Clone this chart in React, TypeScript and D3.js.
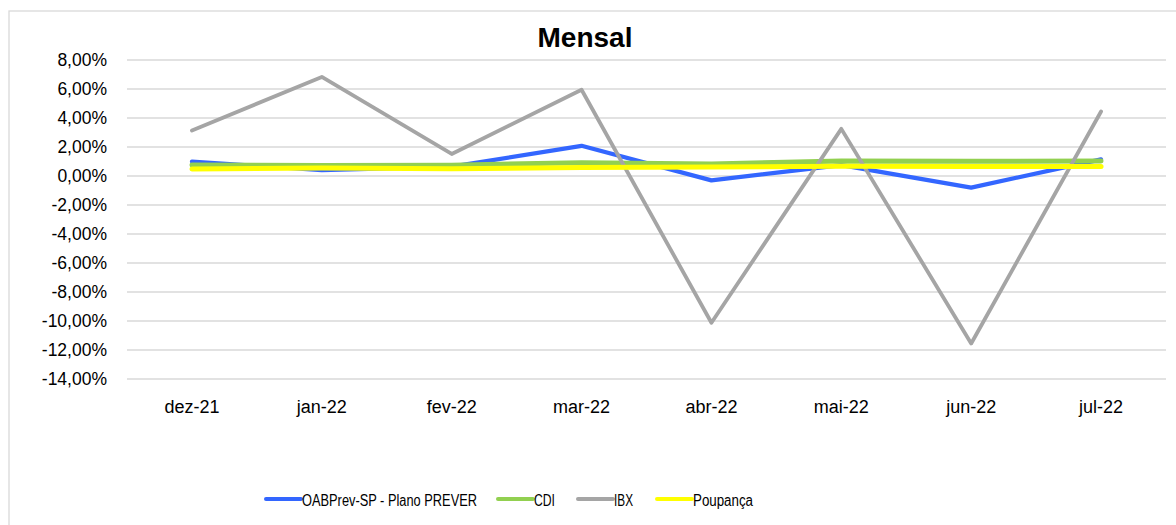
import React from "react";
import * as d3 from "d3";

const months = ["dez-21", "jan-22", "fev-22", "mar-22", "abr-22", "mai-22", "jun-22", "jul-22"];
const oabprev = [1.0, 0.4, 0.65, 2.08, -0.3, 0.75, -0.8, 1.15];
const cdi = [0.76, 0.73, 0.75, 0.92, 0.83, 1.03, 1.01, 1.03];
const ibx = [3.14, 6.83, 1.52, 5.95, -10.12, 3.25, -11.55, 4.45];
const poupanca = [0.49, 0.56, 0.5, 0.59, 0.62, 0.67, 0.65, 0.65];
const yTicks = [8, 6, 4, 2, 0, -2, -4, -6, -8, -10, -12, -14];

const series = [
  { name: "OABPrev-SP - Plano PREVER", values: oabprev, color: "#3366FF", width: 4.2 },
  { name: "CDI", values: cdi, color: "#92D050", width: 5 },
  { name: "IBX", values: ibx, color: "#A5A5A5", width: 3.8 },
  { name: "Poupança", values: poupanca, color: "#FFFF00", width: 5 },
];

// legend layout (line start, label width)
const legendX = [266, 498, 578, 657];
const legendTextW = [175, 21, 19, 60];

const W = 1176;
const H = 525;
const font = "'Liberation Sans', Arial, sans-serif";

const fmt = (v: number) => v.toFixed(2).replace(".", ",") + "%";

export default function App() {
  const x = d3.scaleBand().domain(months).range([127, 1166]);
  const y = d3.scaleLinear().domain([-14, 8]).range([379, 60]);

  const line = d3
    .line<number>()
    .x((_, i) => (x(months[i]) as number) + x.bandwidth() / 2)
    .y((d) => y(d));

  return (
    <svg
      width={W}
      height={H}
      style={{ position: "absolute", left: 0, top: 0, background: "#fff" }}
      fontFamily={font}
    >
      <rect x={9} y={11} width={1200} height={560} fill="#fff" stroke="#d9d9d9" strokeWidth={1.3} />
      <text x={585} y={47} textAnchor="middle" fontSize={28} fontWeight="bold" fill="#000">
        Mensal
      </text>

      {yTicks.map((t) => (
        <g key={t}>
          <line x1={127} x2={1166} y1={y(t)} y2={y(t)} stroke="#d9d9d9" strokeWidth={1.3} />
          <text x={107} y={y(t)} dy="0.36em" textAnchor="end" fontSize={17.5} fill="#000">
            {fmt(t)}
          </text>
        </g>
      ))}

      {months.map((m) => (
        <text key={m} x={(x(m) as number) + x.bandwidth() / 2} y={413} textAnchor="middle" fontSize={18} fill="#000">
          {m}
        </text>
      ))}

      {series.map((s) => (
        <path
          key={s.name}
          d={line(s.values) || ""}
          fill="none"
          stroke={s.color}
          strokeWidth={s.width}
          strokeLinejoin="round"
          strokeLinecap="round"
        />
      ))}

      {series.map((s, i) => (
        <g key={s.name} transform={`translate(${legendX[i]},499)`}>
          <line x1={0} x2={35} y1={0} y2={0} stroke={s.color} strokeWidth={4} strokeLinecap="round" />
          <text
            x={36}
            y={6.5}
            fontSize={16}
            fill="#000"
            textLength={legendTextW[i]}
            lengthAdjust="spacingAndGlyphs"
          >
            {s.name}
          </text>
        </g>
      ))}
    </svg>
  );
}
